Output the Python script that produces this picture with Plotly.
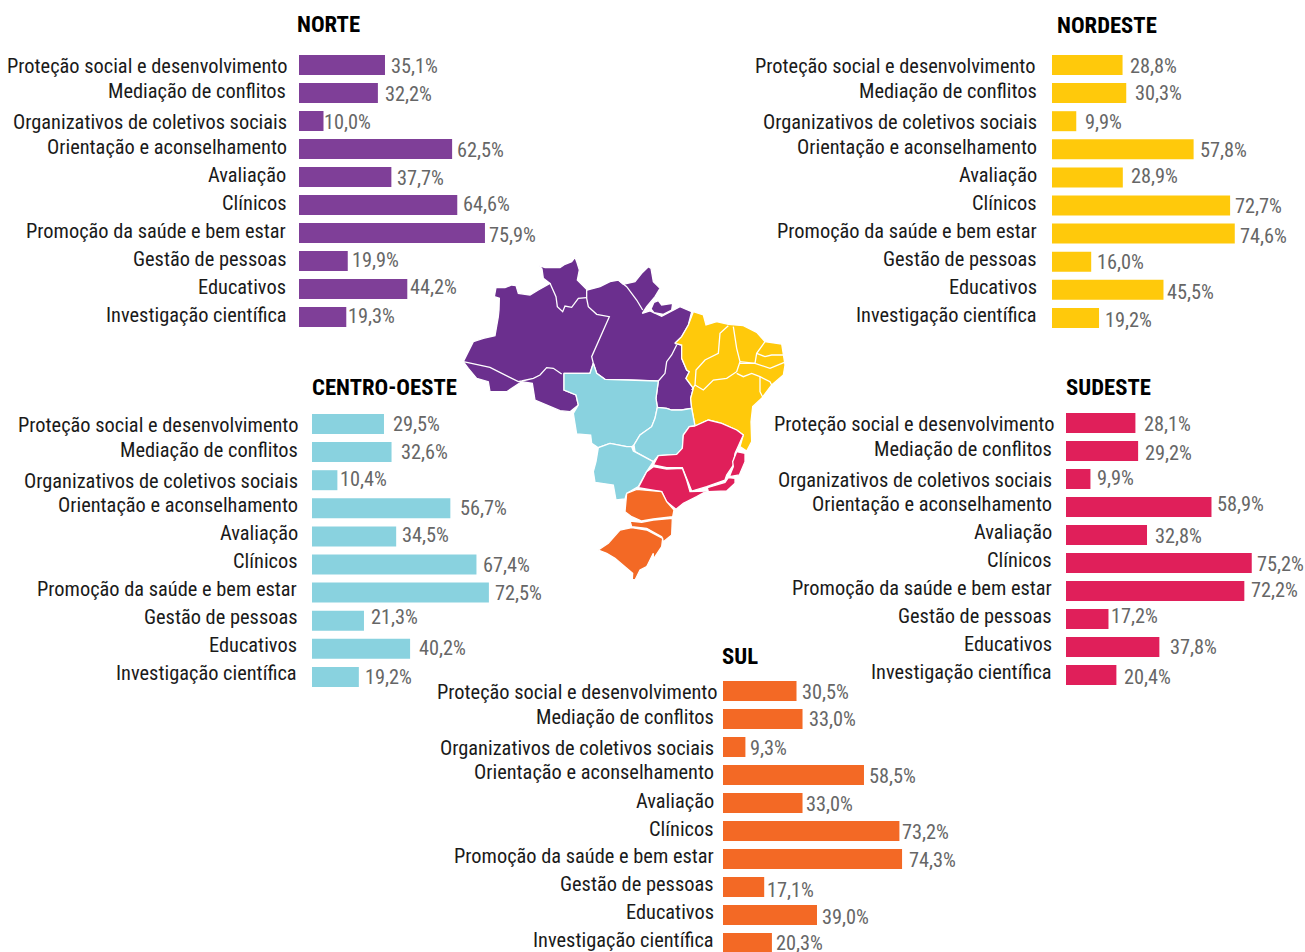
import plotly.graph_objects as go

W, H = 1305, 952
FONT = "Roboto Condensed, Liberation Sans Narrow, Roboto, sans-serif"

categories = ["Proteção social e desenvolvimento", "Mediação de conflitos",
              "Organizativos de coletivos sociais", "Orientação e aconselhamento",
              "Avaliação", "Clínicos", "Promoção da saúde e bem estar",
              "Gestão de pessoas", "Educativos", "Investigação científica"]

norte = [35.1, 32.2, 10.0, 62.5, 37.7, 64.6, 75.9, 19.9, 44.2, 19.3]
nordeste = [28.8, 30.3, 9.9, 57.8, 28.9, 72.7, 74.6, 16.0, 45.5, 19.2]
centro_oeste = [29.5, 32.6, 10.4, 56.7, 34.5, 67.4, 72.5, 21.3, 40.2, 19.2]
sudeste = [28.1, 29.2, 9.9, 58.9, 32.8, 75.2, 72.2, 17.2, 37.8, 20.4]
sul = [30.5, 33.0, 9.3, 58.5, 33.0, 73.2, 74.3, 17.1, 39.0, 20.3]

panels = [
    dict(title="NORTE", v=norte, color="#7F3F98", x0=299, scale=2.45, top=65, gap=28.0,
         lab_right=289, tx=295, ty=24,
         lab_dx=[0, -1, 0, 0, -1, 0, -1, 0, -1, 0],
         lab_dy=[1, -2, 1, -2, -2, -2, -2, -2, -2, -2],
         val_dx=[4, 5, -2, 3, 4, 4, 2, 2, 1, 0],
         val_dy=[1, 1, 1, 1, 1, -1, 2, -1, -2, -1]),
    dict(title="NORDESTE", v=nordeste, color="#FFC90B", x0=1052, scale=2.45, top=65, gap=28.1,
         lab_right=1039, tx=1055, ty=25,
         lab_dx=[-2, 0, 0, 0, 0, 0, 0, 0, 0, 0],
         lab_dy=[1, -2, 1, -2, -2, -3, -3, -3, -3, -3],
         val_dx=[5, 7, 7, 4, 6, 3, 3, 4, 2, 4],
         val_dy=[1, 0, 1, 1, -1, 0, 2, 0, 2, 2]),
    dict(title="CENTRO-OESTE", v=centro_oeste, color="#89D2DF", x0=312, scale=2.44, top=424, gap=28.1,
         lab_right=300, tx=310, ty=387,
         lab_dx=[0, 0, 0, 0, 0, 0, -1, 0, -1, -1],
         lab_dy=[1, -2, 1, -3, -3, -4, -4, -4, -4, -4],
         val_dx=[7, 7, 1, 8, 4, 5, 4, 5, 7, 4],
         val_dy=[0, 0, -1, 0, -1, 0, 0, -4, -1, 0]),
    dict(title="SUDESTE", v=sudeste, color="#E01F5A", x0=1066, scale=2.47, top=423, gap=28.0,
         lab_right=1054, tx=1064, ty=387,
         lab_dx=[2, 0, 0, 0, 0, 0, 0, 0, 0, 0],
         lab_dy=[1, -2, 1, -3, -3, -3, -3, -3, -3, -3],
         val_dx=[7, 5, 5, 4, 6, 3, 5, 1, 9, 6],
         val_dy=[1, 2, -1, -3, 1, 1, -1, -3, 0, 2]),
    dict(title="SUL", v=sul, color="#F36925", x0=723, scale=2.41, top=691, gap=28.0,
         lab_right=716, tx=720, ty=656,
         lab_dx=[3, 0, 0, 0, 0, 0, 0, 0, 0, 0],
         lab_dy=[1, -2, 1, -3, -2, -2, -3, -3, -3, -3],
         val_dx=[3, 4, 3, 3, 1, 1, 5, 1, 3, 2],
         val_dy=[1, 0, 1, 1, 1, 1, 1, 3, 2, 0]),
]

# region outlines, in the units of the map's own axes
AM_PA = [(40,350),(55,318),(70,290),(100,280),(135,272),(145,215),(147,195),(148,160),(133,155),(138,128),(165,128),(185,120),(198,122),(205,145),(240,150),(265,135),(300,115),(280,100),(276,72),(268,62),(285,68),(330,68),(345,58),(365,50),(375,37),(380,50),(388,75),(382,105),(408,132),(412,135),(450,125),(480,110),(505,105),(520,118),(555,110),(575,85),(595,65),(603,70),(610,110),(630,130),(615,155),(590,185),(577,205),(600,198),(635,214),(665,198),(690,185),(725,200),(715,240),(695,275),(675,295),(695,300),(695,340),(710,375),(718,380),(708,400),(730,430),(722,460),(725,490),(695,495),(665,495),(650,490),(622,487),(618,460),(625,408),(540,405),(465,403),(440,385),(430,355),(420,385),(342,385),(342,435),(378,450),(385,480),(360,500),(330,497),(290,480),(255,465),(247,415),(215,410),(170,440),(120,440),(115,410),(80,400),(55,370)]
MARAJO = [(612,172),(625,167),(635,180),(668,175),(665,195),(640,208),(612,203),(603,192)]
NE = [(730,200),(760,210),(768,240),(800,230),(835,238),(880,242),(920,262),(945,290),(995,297),(1003,340),(1005,360),(1000,390),(965,420),(935,460),(908,485),(903,530),(905,590),(890,618),(870,605),(880,570),(860,555),(815,535),(775,525),(735,543),(725,490),(722,460),(730,430),(708,400),(718,380),(710,375),(695,340),(695,300),(675,295),(695,275),(715,240)]
MT = [(342,385),(420,385),(430,355),(440,385),(465,403),(540,405),(625,408),(618,460),(622,487),(615,520),(605,545),(570,570),(552,600),(545,605),(530,605),(480,595),(445,608),(425,595),(422,570),(380,567),(370,505),(385,480),(378,450),(342,435)]
GO = [(622,487),(650,490),(665,495),(695,495),(725,490),(735,543),(718,545),(700,570),(697,610),(680,628),(625,632),(610,650),(555,620),(552,600),(570,570),(605,545),(615,520)]
MS = [(445,608),(480,595),(530,605),(545,605),(550,618),(610,650),(590,680),(565,725),(530,745),(525,762),(498,765),(490,720),(435,712),(430,680),(438,650),(442,620)]
MG = [(735,543),(775,525),(815,535),(860,555),(880,570),(865,600),(855,625),(850,660),(830,690),(825,705),(770,725),(725,738),(712,705),(697,668),(650,668),(610,660),(625,632),(680,628),(697,610),(700,570),(718,545)]
ES = [(860,620),(885,625),(885,650),(868,690),(838,695),(850,665),(848,650)]
RJ = [(835,698),(855,700),(855,715),(830,738),(775,740),(772,728),(825,712)]
SP = [(610,665),(650,672),(697,670),(710,705),(720,740),(770,738),(740,755),(700,775),(678,793),(650,770),(635,740),(600,735),(565,728),(590,680)]
PR = [(530,745),(560,733),(635,740),(650,770),(672,795),(668,815),(610,822),(575,828),(545,815),(525,800)]
SC = [(540,828),(575,832),(610,825),(667,820),(665,870),(640,890),(635,875),(590,850),(545,845)]
RS = [(545,848),(590,855),(638,880),(635,905),(625,920),(605,950),(590,965),(570,975),(555,1005),(547,1003),(548,985),(520,960),(495,940),(470,925),(445,915),(475,895),(510,855)]

MAP_FILLS = [(AM_PA, "#6B2F8E"), (MARAJO, "#6B2F8E"), (NE, "#FFC90B"), (MT, "#89D2DF"), (GO, "#89D2DF"), (MS, "#89D2DF"),
             (MG, "#E01F5A"), (ES, "#E01F5A"), (RJ, "#E01F5A"), (SP, "#E01F5A"),
             (PR, "#F36925"), (SC, "#F36925"), (RS, "#F36925")]

STATE_LINES = [
    [(40,350),(120,367),(205,410),(215,408)],
    [(215,408),(250,400),(270,390),(290,368),(310,370),(335,387)],
    [(410,135),(410,160),(415,185),(440,208),(478,215),(450,280),(425,335),(430,355)],
    [(300,115),(318,155),(322,185),(338,200),(345,183),(365,187),(385,160),(410,158)],
    [(505,105),(530,125),(560,165),(578,195)],
    [(680,300),(665,330),(650,350),(645,385),(625,408)],
    [(835,242),(810,265),(805,325),(765,345),(738,375),(735,420),(725,435)],
    [(735,420),(760,435),(790,405),(830,400),(860,380),(870,350),(860,310),(850,245)],
    [(945,290),(920,325),(915,355),(870,350)],
    [(860,385),(880,395),(905,385),(930,395),(960,410),(965,420)],
    [(870,355),(915,355),(960,370),(1003,352)],
    [(920,325),(945,335),(965,330),(1000,330)],
    [(930,395),(930,440),(940,460)],
]
LAGOON = [(610,925),(590,965),(610,950)]

fig = go.Figure()
annotations = []
PANEL_W = 230
for i, p in enumerate(panels, start=1):
    xa, ya = f"xaxis{i}", f"yaxis{i}"
    xr, yr = f"x{i}", f"y{i}"
    x0, top, gap = p["x0"], p["top"], p["gap"]
    fig.add_trace(go.Bar(x=p["v"], y=categories, orientation="h", marker=dict(color=p["color"], line_width=0),
                         width=20 / gap, xaxis=xr, yaxis=yr, showlegend=False, hoverinfo="x+y"))
    y_top, y_bot = top - gap / 2, top + 9.5 * gap
    right = min(x0 + PANEL_W, W)
    # the south panel reaches the bottom of the page, so its axis is cut to fit
    bot_px = min(y_bot, H)
    rng_bot = 9.5 - (y_bot - bot_px) / gap
    fig.update_layout({
        xa: dict(domain=[x0 / W, right / W], range=[0, (right - x0) / p["scale"]],
                 visible=False, anchor=yr),
        ya: dict(domain=[1 - bot_px / H, 1 - y_top / H], range=[rng_bot, -0.5],
                 type="category", categoryorder="array", categoryarray=categories,
                 visible=False, anchor=xr),
    })
    annotations.append(dict(text=f"<b>{p['title']}</b>", xref="paper", yref="paper", x=p["tx"] / W, y=1 - p["ty"] / H,
                            xanchor="left", yanchor="middle", showarrow=False,
                            font=dict(family=FONT, size=22.7, color="#000000")))
    for j, (c, v) in enumerate(zip(categories, p["v"])):
        annotations.append(dict(text=c, xref=xr, yref=yr, x=0, y=c, xanchor="right", yanchor="middle",
                                xshift=p["lab_right"] - x0 + p["lab_dx"][j], yshift=-p["lab_dy"][j], showarrow=False,
                                font=dict(family=FONT, size=20.4, color="#1a1a1a")))
        annotations.append(dict(text=f"{v:.1f}%".replace(".", ","), xref=xr, yref=yr, x=v, y=c,
                                xanchor="left", yanchor="middle", xshift=p["val_dx"][j], yshift=-p["val_dy"][j],
                                showarrow=False, font=dict(family=FONT, size=20.3, color="#666666")))

# map
for poly, col in MAP_FILLS + [(LAGOON, "#ffffff")]:
    xs = [q[0] for q in poly] + [poly[0][0]]
    ys = [q[1] for q in poly] + [poly[0][1]]
    fig.add_trace(go.Scatter(x=xs, y=ys, mode="lines", fill="toself", fillcolor=col,
                             line=dict(color="#ffffff", width=1.3), xaxis="x6", yaxis="y6",
                             showlegend=False, hoverinfo="skip"))
for ln in STATE_LINES:
    fig.add_trace(go.Scatter(x=[q[0] for q in ln], y=[q[1] for q in ln], mode="lines",
                             line=dict(color="#ffffff", width=1.3), xaxis="x6", yaxis="y6",
                             showlegend=False, hoverinfo="skip"))
fig.update_layout(
    xaxis6=dict(domain=[450 / W, 800 / W], range=[0, 1050], visible=False, anchor="y6"),
    yaxis6=dict(domain=[1 - 590 / H, 1 - 245 / H], range=[1035, 0], visible=False, anchor="x6"),
    width=W, height=H, margin=dict(l=0, r=0, t=0, b=0), paper_bgcolor="#ffffff", plot_bgcolor="rgba(0,0,0,0)",
    showlegend=False, annotations=annotations, font=dict(family=FONT),
)
fig.write_html("out.html", config={"displayModeBar": False},
               post_script="document.body.style.margin='0';document.documentElement.style.overflow='hidden';")
